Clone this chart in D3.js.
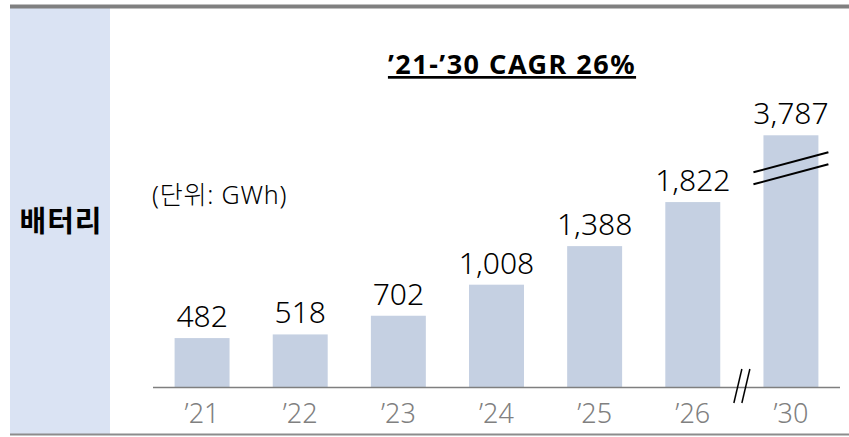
<!DOCTYPE html>
<html>
<head>
<meta charset="utf-8">
<script src="https://cdn.jsdelivr.net/npm/d3@7"></script>
<style>
    body { margin: 0; background: #fff; }
    svg { display: block; font-family: 'Noto Sans', 'Noto Sans CJK KR', sans-serif; }
</style>
</head>
<body>
<svg width="849" height="437"></svg>
<script>
    // data
    const years = ["’21", "’22", "’23", "’24", "’25", "’26", "’30"];
    const values = [482, 518, 702, 1008, 1388, 1822, 3787];
    const brokenYear = "’30";
    const brokenShown = 2480; // the '30 bar is cut, drawn at this height
    const title = "’21-’30 CAGR 26%";
    const unitText = "(단위: GWh)";
    const rowLabel = "배터리";

    const BAR_COLOR = '#c5d0e2',
        PANEL_COLOR = '#dae3f3',
        AXIS_COLOR = '#7f7f7f';

    const svg = d3.select('svg');

    const x = d3.scaleBand()
        .domain(years)
        .range([153, 840])
        .paddingInner(0.44)
        .paddingOuter(0.22);

    const y = d3.scaleLinear()
        .domain([0, 2000])
        .range([387, 184]);

    const shown = (d, i) => years[i] === brokenYear ? brokenShown : d;

    // left panel + frame lines
    svg.append('rect')
        .attr('x', 10).attr('y', 8)
        .attr('width', 100).attr('height', 426)
        .attr('fill', PANEL_COLOR);

    svg.append('line')
        .attr('x1', 10).attr('x2', 849)
        .attr('y1', 6.5).attr('y2', 6.5)
        .attr('stroke', '#808080').attr('stroke-width', 4);

    svg.append('line')
        .attr('x1', 10).attr('x2', 849)
        .attr('y1', 434.5).attr('y2', 434.5)
        .attr('stroke', '#8c8c8c').attr('stroke-width', 2);

    svg.append('text')
        .attr('x', 61).attr('y', 232)
        .attr('text-anchor', 'middle')
        .attr('font-family', "'Noto Sans CJK KR', sans-serif")
        .attr('font-weight', 'bold')
        .attr('font-size', 29)
        .attr('letter-spacing', 1)
        .attr('fill', '#000')
        .text(rowLabel);

    // bars
    svg.selectAll('.bar')
        .data(values)
        .enter()
        .append('rect')
        .attr('class', 'bar')
        .attr('x', (d, i) => x(years[i]))
        .attr('width', x.bandwidth())
        .attr('y', (d, i) => y(shown(d, i)))
        .attr('height', (d, i) => y(0) - y(shown(d, i)))
        .attr('fill', BAR_COLOR);

    // value labels
    svg.selectAll('.val')
        .data(values)
        .enter()
        .append('text')
        .attr('class', 'val')
        .attr('x', (d, i) => x(years[i]) + x.bandwidth() / 2)
        .attr('y', (d, i) => y(shown(d, i)) - 11)
        .attr('text-anchor', 'middle')
        .attr('font-size', 30)
        .attr('font-weight', 300)
        .attr('fill', '#000')
        .text(d => d3.format(',')(d));

    // x axis
    const xAxis = svg.append('g')
        .attr('transform', `translate(0,${y(0)})`)
        .call(d3.axisBottom(x).tickSize(0).tickPadding(10));
    xAxis.select('.domain')
        .attr('d', `M${x.range()[0]},0.5H${x.range()[1]}`)
        .attr('stroke', AXIS_COLOR)
        .attr('stroke-width', 1.5);
    xAxis.selectAll('text')
        .attr('dy', null)
        .attr('y', 36)
        .attr('font-family', "'Noto Sans', sans-serif")
        .attr('font-size', 27)
        .attr('font-weight', 300)
        .attr('fill', '#808080');

    // break marks on the '30 bar
    const bx = x(brokenYear), bw = x.bandwidth();
    const by = y(brokenShown);
    [0, 12].forEach(off => {
        svg.append('line')
            .attr('x1', bx - 10).attr('y1', by + 37 + off)
            .attr('x2', bx + bw + 10).attr('y2', by + 17 + off)
            .attr('stroke', '#000').attr('stroke-width', 2);
    });

    // break marks on the axis, between '26 and '30
    const gx = (x("’26") + bw + bx) / 2;
    [-4, 4].forEach(off => {
        svg.append('line')
            .attr('x1', gx + off + 4).attr('y1', y(0) - 18)
            .attr('x2', gx + off - 4).attr('y2', y(0) + 16)
            .attr('stroke', '#000').attr('stroke-width', 1.5);
    });

    // title and unit
    svg.append('text')
        .attr('x', 512).attr('y', 74)
        .attr('text-anchor', 'middle')
        .attr('font-weight', 'bold')
        .attr('font-size', 27)
        .attr('letter-spacing', 1.5)
        .attr('fill', '#000')
        .attr('text-decoration', 'underline')
        .text(title);

    svg.append('text')
        .attr('x', 152).attr('y', 204)
        .attr('font-size', 25)
        .attr('font-weight', 300)
        .attr('letter-spacing', 0.8)
        .attr('fill', '#000')
        .text(unitText);
</script>
</body>
</html>
